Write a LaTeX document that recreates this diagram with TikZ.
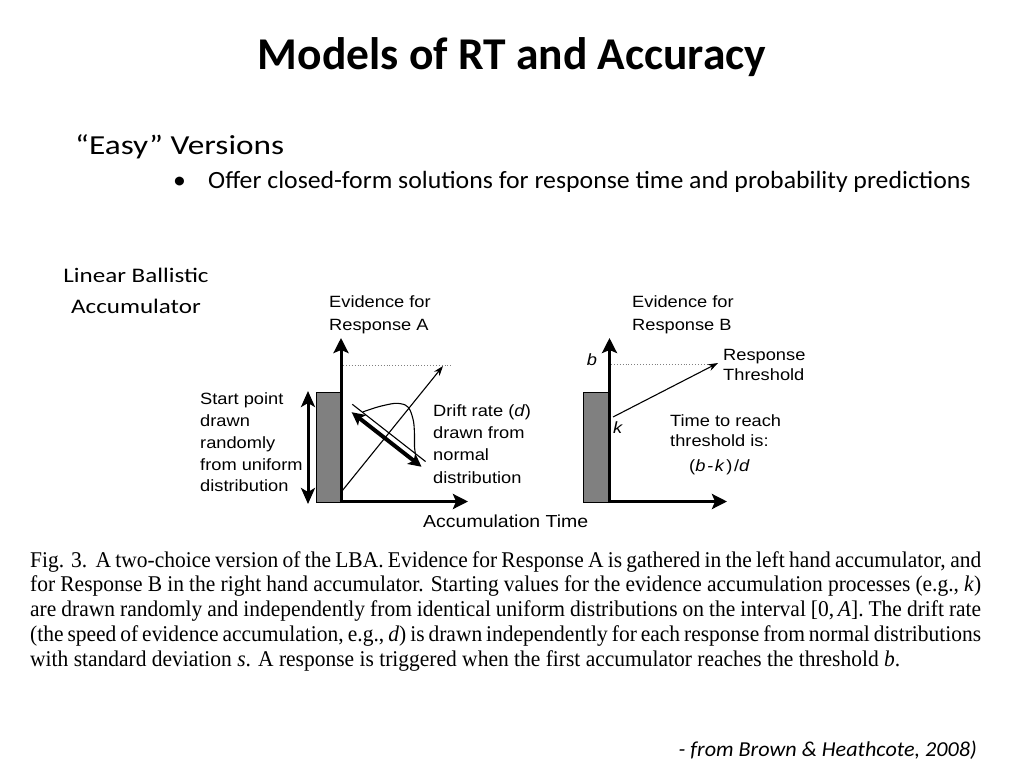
\documentclass[tikz,border=0pt]{standalone}
\usepackage{fontspec}
\setmainfont{Carlito}
\newfontfamily\largo[FakeStretch=1.21]{Carlito}
\newfontfamily\medio[FakeStretch=1.04]{Carlito}
\newfontfamily\figfont[FakeStretch=1.12]{Liberation Sans}
\newfontfamily\capfont[FakeStretch=0.955]{Liberation Serif}
\usetikzlibrary{arrows.meta}
\definecolor{cinza}{RGB}{128,128,128}

\begin{document}
\begin{tikzpicture}[x=1pt,y=1pt,
    eixo/.style={line width=3pt,-{Stealth[length=15pt,width=15pt,inset=3pt]}},
    fina/.style={line width=1.1pt,-{Stealth[length=10pt,width=7pt]}},
    limiar/.style={gray,dotted,line width=0.9pt},
    rotulo/.style={font=\figfont\fontsize{16.3}{22.3}\selectfont,align=left,inner sep=0pt},
    slide/.style={inner sep=0pt}]
  \useasboundingbox (0,0) rectangle (1024,-768);
  % textos do slide
  \node[slide,anchor=base,font=\bfseries\fontsize{45.5}{54}\selectfont] (title) at (512,-70) {Models of RT and Accuracy};
  \node[slide,anchor=base west,font=\largo\fontsize{27.5}{34}\selectfont] (easy) at (75,-154) {“Easy” Versions};
  \node[slide,anchor=base west,font=\medio\fontsize{24.8}{30}\selectfont] (dot) at (173,-188) {•};
  \node[slide,anchor=base west,font=\medio\fontsize{24.8}{30}\selectfont] (offer) at (208,-188) {Offer closed-form solutions for response time and probability predictions};
  \node[slide,anchor=base,align=center,font=\largo\fontsize{20.7}{31}\selectfont] (lba) at (136,-313) {Linear Ballistic\\Accumulator};
  % acumulador A
  \fill[cinza,draw=black,line width=0.6pt] (316,-392) rectangle (340,-502); % ponto inicial
  \draw[eixo] (341,-503) -- (341,-338);                  % eixo vertical
  \draw[eixo] (339.5,-501.5) -- (468,-501.5);            % eixo horizontal
  \draw[limiar] (343,-365) -- (452,-365);                % limiar
  \draw[fina] (342,-491) -- (443,-366);                  % acumulacao
  \draw[line width=3pt,{Stealth[length=16pt,width=14pt,inset=4pt]}-{Stealth[length=16pt,width=14pt,inset=4pt]}] (308,-391) -- (308,-504); % intervalo [0,A]
  \begin{scope}[shift={(352.3,-404.3)},rotate=-38]
    \draw[line width=1.1pt] (0,0) -- (93,0);             % base da normal
    \draw[line width=4pt,{Stealth[length=13pt,width=13pt,inset=3pt]}-{Stealth[length=13pt,width=13pt,inset=3pt]}] (4.4,-6.6) -- (93,-6.6); % taxa
    \draw[line width=1.1pt] plot[smooth] coordinates {(13,0.5) (22,14) (33,27) (42,32) (49,31) (59,24) (68,14) (75,5) (80,0)}; % normal
  \end{scope}
  \node[rotulo,anchor=base west,font=\figfont\fontsize{16.3}{22.8}\selectfont] (evA) at (329,-330) {Evidence for\\Response A};
  \node[rotulo,anchor=base west,font=\figfont\fontsize{16.3}{21.7}\selectfont] (start) at (200,-491.7) {Start point\\drawn\\randomly\\from uniform\\distribution};
  \node[rotulo,anchor=base west] (drift) at (433,-483) {Drift rate (\textit{d})\\drawn from\\normal\\distribution};
  \node[rotulo,anchor=base west,font=\figfont\fontsize{17.4}{22}\selectfont] (acc) at (423,-527) {Accumulation Time};
  % acumulador B
  \fill[cinza,draw=black,line width=0.6pt] (583,-392) rectangle (608,-502);
  \draw[eixo] (609.5,-503) -- (609.5,-338);
  \draw[eixo] (608,-501.5) -- (727,-501.5);
  \draw[limiar] (611,-364) -- (717,-364);
  \draw[fina] (613,-417) -- (718,-363);
  \node[rotulo,anchor=base west,font=\figfont\fontsize{16.3}{22.8}\selectfont] (evB) at (632,-330) {Evidence for\\Response B};
  \node[rotulo,anchor=base] (lbb) at (592,-365) {\textit{b}};
  \node[rotulo,anchor=base] (lbk) at (618,-433) {\textit{k}};
  \node[rotulo,anchor=base west,font=\figfont\fontsize{16.3}{20.5}\selectfont] (resp) at (723,-380.5) {Response\\Threshold};
  \node[rotulo,anchor=base west,font=\figfont\fontsize{16.3}{20.5}\selectfont] (time) at (670,-446.7) {Time to reach\\threshold is:};
  \node[rotulo,anchor=base west,font=\figfont\fontsize{16.3}{22}\selectfont\addfontfeature{LetterSpace=10}] (frac) at (689,-471) {(\textit{b-k})/\textit{d}};
  % legenda da figura
  \node[slide,anchor=base west,text width=951pt,align=justify,font=\capfont\fontsize{22.5}{24.75}\selectfont] (caption) at (30,-567)
    {Fig. 3.\ \ A two-choice version of the LBA. Evidence for Response A is gathered in the left hand accumulator, and\linebreak
     for Response B in the right hand accumulator. Starting values for the evidence accumulation processes (e.g., \textit{k})\linebreak
     are drawn randomly and independently from identical uniform distributions on the interval [0,\,\textit{A}]. The drift rate\linebreak
     (the speed of evidence accumulation, e.g., \textit{d}) is drawn independently for each response from normal distributions\linebreak
     with standard deviation \textit{s}. A response is triggered when the first accumulator reaches the threshold \textit{b}.};
  \node[slide,anchor=base east,font=\medio\itshape\fontsize{21.3}{24}\selectfont] (source) at (977,-756) {- from Brown \& Heathcote, 2008)};
\end{tikzpicture}
\end{document}
